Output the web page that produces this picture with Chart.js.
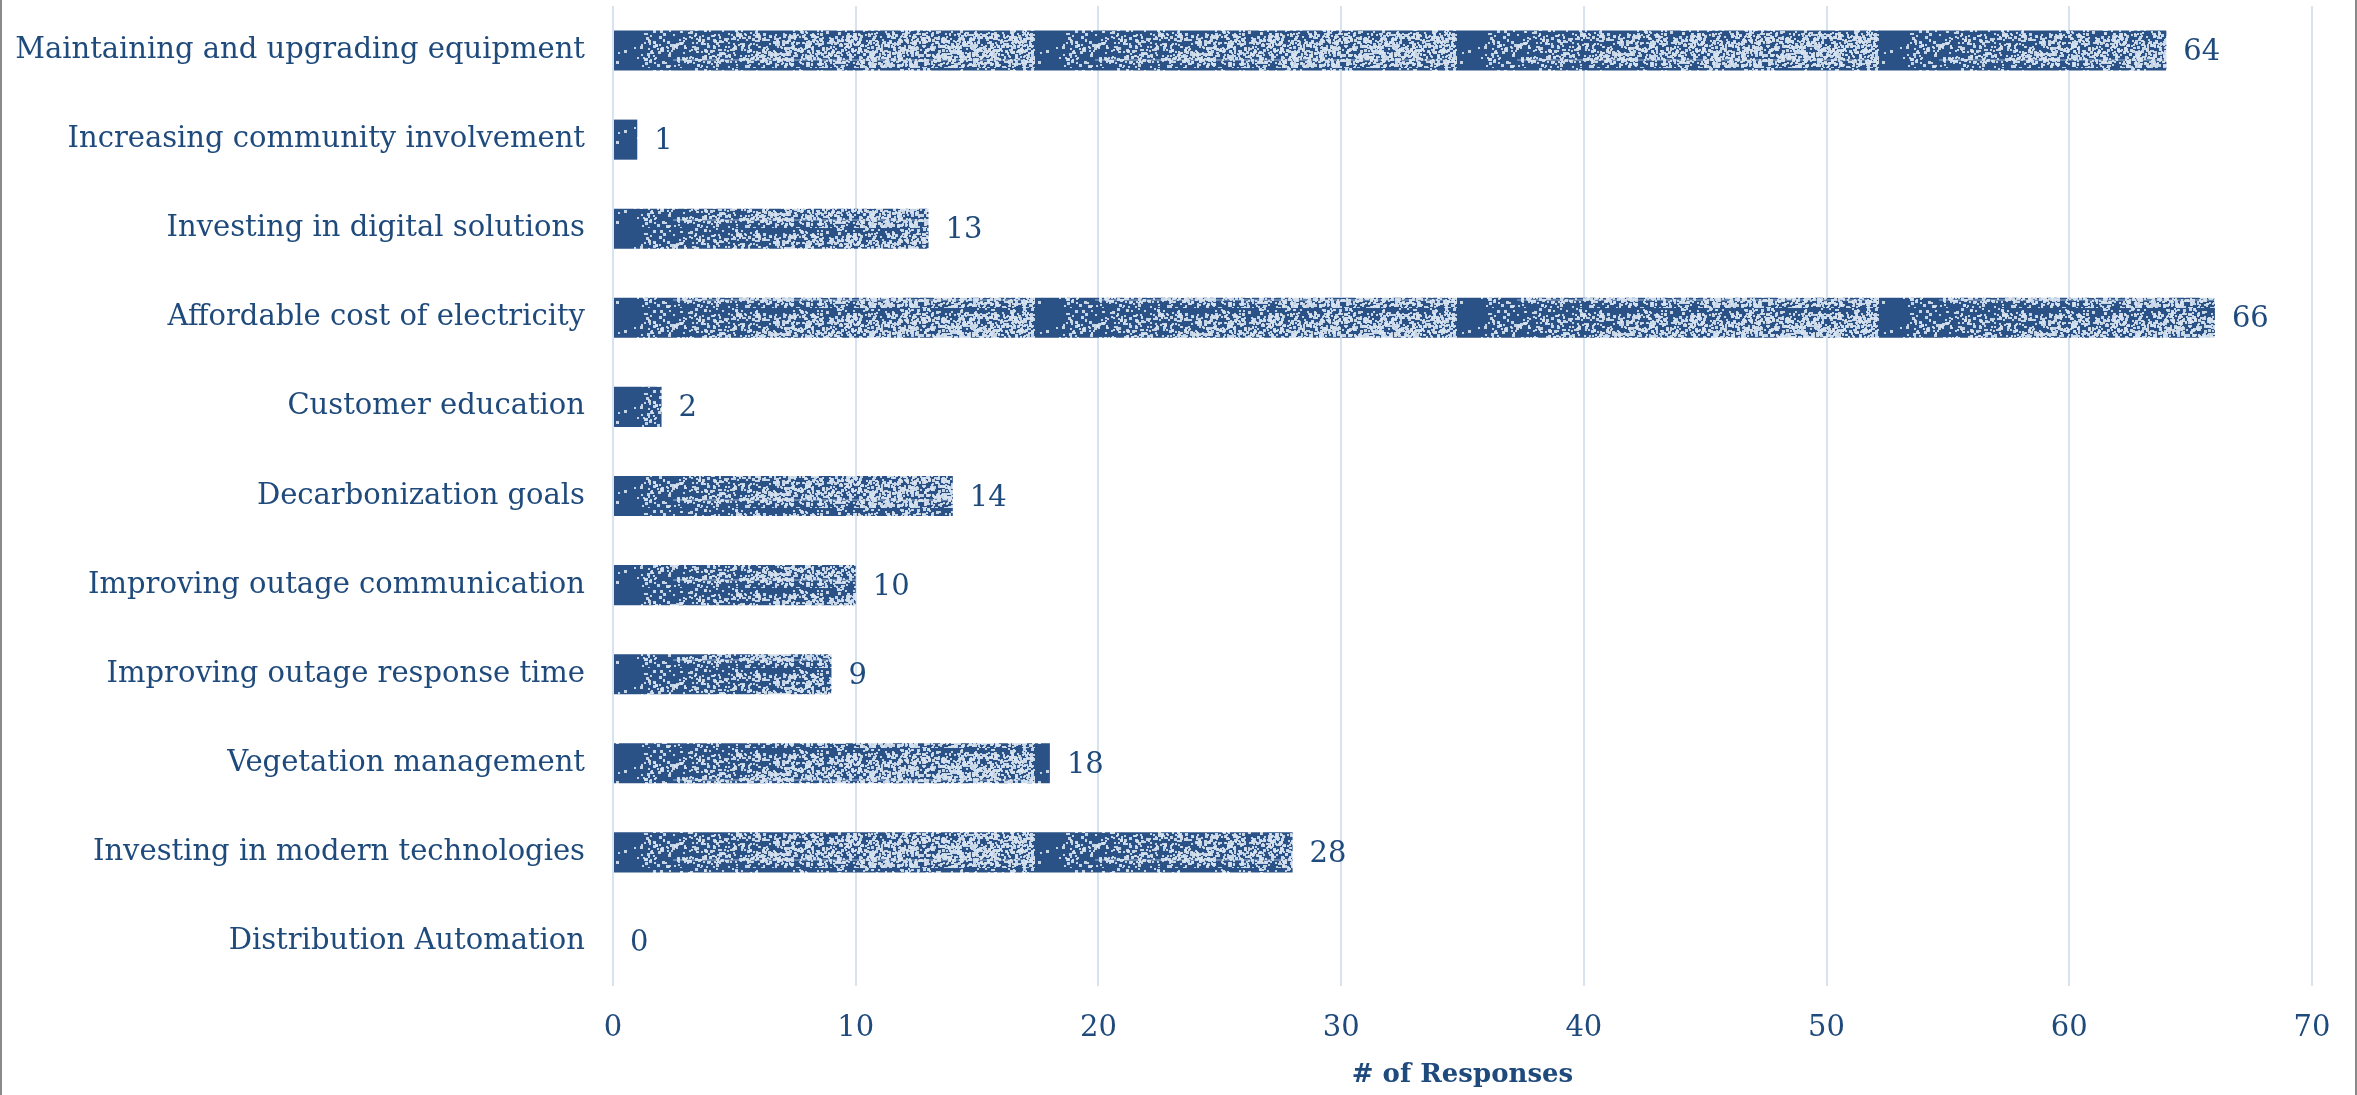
<!DOCTYPE html>
<html>
<head>
<meta charset="utf-8">
<title>Priorities - # of Responses</title>
<script src="https://cdn.jsdelivr.net/npm/chart.js@4.4.1/dist/chart.umd.min.js"></script>
<style>
  html, body { margin: 0; padding: 0; background: #fff; }
  #wrap { position: relative; width: 2357px; height: 1095px; }
  #frame { position: absolute; inset: 0; border-left: 2px solid #8a8a8a; border-right: 2px solid #8a8a8a; pointer-events: none; }
</style>
</head>
<body>
<div id="wrap">
  <canvas id="chart"></canvas>
  <div id="frame"></div>
</div>
<script>
// Data
const categories = [
  "Maintaining and upgrading equipment",
  "Increasing community involvement",
  "Investing in digital solutions",
  "Affordable cost of electricity",
  "Customer education",
  "Decarbonization goals",
  "Improving outage communication",
  "Improving outage response time",
  "Vegetation management",
  "Investing in modern technologies",
  "Distribution Automation"
];
const responses = [64, 1, 13, 66, 2, 14, 10, 9, 18, 28, 0];
const xTicks = [0, 10, 20, 30, 40, 50, 60, 70];
const axisTitle = "# of Responses";

// Styles
const textColor = "#1f4a7c";
const barColor = "#2a5286";
const speckColor = "rgba(214,226,240,0.9)";
const gridColor = "#d7e3f1";
const fontFamily = '"DejaVu Serif", "Liberation Serif", serif';

// where the plot area should sit on the 2357x1095 canvas
const target = { left: 613, top: 6, right: 2312, bottom: 986 };

// Stippled fill, like the printed texture on the original bars
function makeTexture() {
  const w = 422, h = 40;
  const c = document.createElement("canvas");
  c.width = w; c.height = h;
  const g = c.getContext("2d");
  g.fillStyle = barColor;
  g.fillRect(0, 0, w, h);
  let seed = 12345;
  const rnd = () => (seed = (seed * 16807) % 2147483647) / 2147483647;
  g.fillStyle = speckColor;
  for (let x = 0; x < w; x++) {
    const t = x / w;
    const density = x < 28 ? 0.004 : Math.min(0.16, 0.04 + t * 0.18);
    for (let y = 0; y < h; y++) {
      const d = y < 5 ? density * 0.4 : density;
      if (rnd() < d) {
        const s = rnd() < 0.3 ? 3 : 2;
        g.fillRect(x, y, s, s);
      }
    }
  }
  // faint light streak near the bottom of the tile
  g.fillStyle = "rgba(214,226,240,0.35)";
  g.fillRect(60, 31, w - 70, 2);
  return g.createPattern(c, "repeat");
}

const barPattern = makeTexture();

// keep the texture tiles starting at the zero line
const alignPattern = {
  id: "alignPattern",
  beforeDatasetsDraw(chart) {
    const area = chart.chartArea;
    barPattern.setTransform(new DOMMatrix().translateSelf(area.left, area.top + 22));
  }
};

// value labels at the end of each bar
const valueLabels = {
  id: "valueLabels",
  afterDatasetsDraw(chart) {
    const ctx = chart.ctx;
    const meta = chart.getDatasetMeta(0);
    ctx.save();
    ctx.font = "29px " + fontFamily;
    ctx.fillStyle = textColor;
    ctx.textAlign = "left";
    ctx.textBaseline = "middle";
    meta.data.forEach((bar, i) => {
      ctx.fillText(String(responses[i]), bar.x + 17, bar.y + 2);
    });
    ctx.restore();
  }
};

const canvas = document.getElementById("chart");
canvas.width = 2357;
canvas.height = 1095;

const chart = new Chart(canvas, {
  type: "bar",
  data: {
    labels: categories,
    datasets: [{
      data: responses,
      backgroundColor: barPattern,
      borderWidth: 0,
      barPercentage: 0.45,
      categoryPercentage: 1
    }]
  },
  options: {
    indexAxis: "y",
    responsive: false,
    animation: false,
    layout: { padding: { top: 6, right: 45, bottom: 0, left: 0 } },
    plugins: {
      legend: { display: false },
      tooltip: { enabled: false }
    },
    scales: {
      x: {
        min: 0,
        max: 70,
        afterBuildTicks: (scale) => { scale.ticks = xTicks.map(v => ({ value: v })); },
        afterFit: (scale) => { scale.height = 1095 - target.bottom; },
        grid: { color: gridColor, lineWidth: 2, drawTicks: false },
        border: { display: false },
        ticks: {
          color: textColor,
          font: { family: fontFamily, size: 29 },
          padding: 25
        },
        title: {
          display: true,
          text: axisTitle,
          color: textColor,
          font: { family: fontFamily, size: 26, weight: "bold" },
          padding: { top: 0, bottom: 4 }
        }
      },
      y: {
        afterFit: (scale) => {
          scale.width = target.left;
          scale.paddingTop = 0;
          scale.paddingBottom = 0;
        },
        grid: { display: false, drawTicks: false },
        border: { display: false },
        ticks: {
          color: textColor,
          font: { family: fontFamily, size: 29 },
          padding: 28
        }
      }
    }
  },
  plugins: [alignPattern, valueLabels]
});

// nudge the layout padding so the plot area lands where it does in the original
const area = chart.chartArea;
const pad = chart.options.layout.padding;
pad.top += target.top - area.top;
pad.right += area.right - target.right;
chart.update();
</script>
</body>
</html>
